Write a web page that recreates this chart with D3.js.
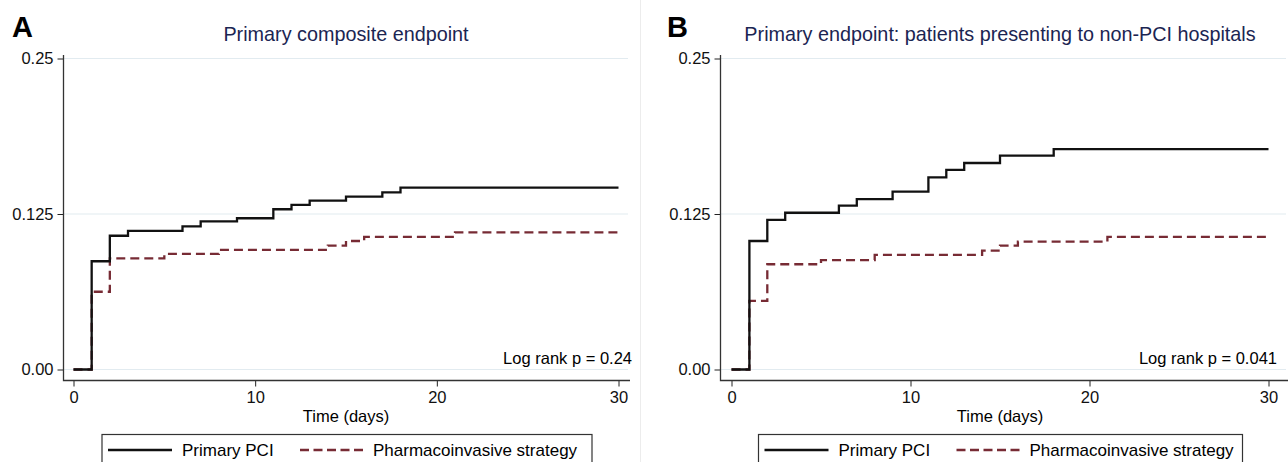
<!DOCTYPE html>
<html>
<head>
<meta charset="utf-8">
<script src="https://cdn.jsdelivr.net/npm/d3@7"></script>
<style>
  body { margin: 0; background: #fff; }
  svg { display: block; font-family: "Liberation Sans", Arial, Helvetica, sans-serif; }
</style>
</head>
<body>
<div id="chart"></div>
<script>
// step times (days) and cumulative incidence
const pciTimesA = [0, 1, 2, 3, 6, 7, 9, 11, 12, 13, 15, 17, 18, 30];
const pciValuesA = [0, 0.087, 0.1075, 0.1115, 0.115, 0.119, 0.1216, 0.1288, 0.1323, 0.1357, 0.139, 0.1424, 0.1462, 0.1462];
const pharmaTimesA = [0, 1, 2, 5, 8, 14, 15, 16, 21, 30];
const pharmaValuesA = [0, 0.0625, 0.0894, 0.0929, 0.0961, 0.0996, 0.1033, 0.1066, 0.1102, 0.1132];

const pciTimesB = [0, 1, 2, 3, 6, 7, 9, 11, 12, 13, 15, 18, 30];
const pciValuesB = [0, 0.1033, 0.1202, 0.126, 0.1317, 0.137, 0.143, 0.1545, 0.1604, 0.166, 0.1719, 0.1772, 0.1772];
const pharmaTimesB = [0, 1, 2, 5, 8, 14, 15, 16, 21, 30];
const pharmaValuesB = [0, 0.0551, 0.0846, 0.088, 0.0921, 0.0955, 0.0996, 0.1028, 0.1066, 0.1066];

const yTicks = [0, 0.125, 0.25];
const yTickLabels = ['0.00', '0.125', '0.25'];
const xTicks = [0, 10, 20, 30];
const seriesNames = ['Primary PCI', 'Pharmacoinvasive strategy'];

const width = 1288;
const height = 462;
const pciColor = '#111';
const pharmaColor = '#772b34';
const titleColor = '#1b2552';
const gridColor = '#e2ebf0';

const svg = d3.select('#chart')
  .append('svg')
  .attr('width', width)
  .attr('height', height);

// faint divider between the two panels
svg.append('line')
  .attr('x1', 640.5).attr('x2', 640.5)
  .attr('y1', 0).attr('y2', height)
  .attr('stroke', '#ececec');

function panel(opt) {
  const g = svg.append('g');
  const x = d3.scaleLinear().domain([0, 30]).range([opt.x0, opt.x1]);
  const y = d3.scaleLinear().domain([0, 0.25]).range([369.5, 58.5]);

  // grid
  g.append('g')
    .selectAll('line')
    .data(yTicks)
    .join('line')
    .attr('x1', opt.axisX).attr('x2', opt.gridEnd)
    .attr('y1', d => y(d)).attr('y2', d => y(d))
    .attr('stroke', gridColor)
    .attr('stroke-width', 1.2);

  // axes
  g.append('g')
    .attr('transform', `translate(${opt.axisX},0)`)
    .call(d3.axisLeft(y).tickValues(yTicks).tickSize(6).tickPadding(4)
      .tickFormat((d, i) => yTickLabels[i]))
    .call(a => a.select('.domain').remove())
    .call(a => a.selectAll('line').attr('stroke', '#222'))
    .call(a => a.selectAll('text').attr('font-size', 16.5).attr('fill', '#111')
      .attr('font-family', null));

  g.append('g')
    .attr('transform', 'translate(0,380.5)')
    .call(d3.axisBottom(x).tickValues(xTicks).tickSize(6).tickPadding(5))
    .call(a => a.select('.domain').remove())
    .call(a => a.selectAll('line').attr('stroke', '#222'))
    .call(a => a.selectAll('text').attr('font-size', 16.5).attr('fill', '#111')
      .attr('font-family', null));

  g.append('path')
    .attr('d', `M${opt.axisX},55V380.5H${opt.gridEnd + 2}`)
    .attr('fill', 'none')
    .attr('stroke', '#333')
    .attr('stroke-width', 1.3);

  // curves
  const line = d3.line()
    .x(d => x(d[0]))
    .y(d => y(d[1]))
    .curve(d3.curveStepAfter);

  g.append('path')
    .datum(d3.zip(opt.pharmaTimes, opt.pharmaValues))
    .attr('d', line)
    .attr('fill', 'none')
    .attr('stroke', pharmaColor)
    .attr('stroke-width', 2.3)
    .attr('stroke-dasharray', '9,5');

  g.append('path')
    .datum(d3.zip(opt.pciTimes, opt.pciValues))
    .attr('d', line)
    .attr('fill', 'none')
    .attr('stroke', pciColor)
    .attr('stroke-width', 2.3);

  // texts
  g.append('text')
    .attr('x', opt.letterX).attr('y', 37)
    .attr('font-size', 29).attr('font-weight', 'bold')
    .text(opt.letter);

  g.append('text')
    .attr('x', opt.titleX).attr('y', 40.5)
    .attr('text-anchor', 'middle')
    .attr('font-size', 19.8)
    .attr('fill', titleColor)
    .text(opt.title);

  g.append('text')
    .attr('x', (opt.x0 + opt.x1) / 2).attr('y', 422)
    .attr('text-anchor', 'middle')
    .attr('font-size', 16.5)
    .text('Time (days)');

  g.append('text')
    .attr('x', opt.pX).attr('y', 364)
    .attr('text-anchor', 'end')
    .attr('font-size', 16.5)
    .text(opt.pText);

  // legend
  const lg = g.append('g').attr('transform', `translate(${opt.legX},434.5)`);
  lg.append('rect')
    .attr('width', opt.legW).attr('height', 40)
    .attr('fill', 'white')
    .attr('stroke', '#333')
    .attr('stroke-width', 1.2);
  lg.append('line')
    .attr('x1', 6).attr('x2', 70).attr('y1', 15.5).attr('y2', 15.5)
    .attr('stroke', pciColor).attr('stroke-width', 2.3);
  lg.append('text')
    .attr('x', 80).attr('y', 21.5).attr('font-size', 17)
    .text(seriesNames[0]);
  lg.append('line')
    .attr('x1', 198).attr('x2', 262).attr('y1', 15.5).attr('y2', 15.5)
    .attr('stroke', pharmaColor).attr('stroke-width', 2.3)
    .attr('stroke-dasharray', '9,4.5');
  lg.append('text')
    .attr('x', 271).attr('y', 21.5).attr('font-size', 17)
    .text(seriesNames[1]);
}

panel({
  letter: 'A', letterX: 12, title: 'Primary composite endpoint', titleX: 346,
  x0: 73.5, x1: 618.5, axisX: 63.5, gridEnd: 628,
  pText: 'Log rank p = 0.24', pX: 632,
  legX: 102, legW: 490,
  pciTimes: pciTimesA, pciValues: pciValuesA,
  pharmaTimes: pharmaTimesA, pharmaValues: pharmaValuesA
});

panel({
  letter: 'B', letterX: 667, title: 'Primary endpoint: patients presenting to non-PCI hospitals', titleX: 1000,
  x0: 731.5, x1: 1268.5, axisX: 720.5, gridEnd: 1286,
  pText: 'Log rank p = 0.041', pX: 1277,
  legX: 758.5, legW: 484,
  pciTimes: pciTimesB, pciValues: pciValuesB,
  pharmaTimes: pharmaTimesB, pharmaValues: pharmaValuesB
});
</script>
</body>
</html>
